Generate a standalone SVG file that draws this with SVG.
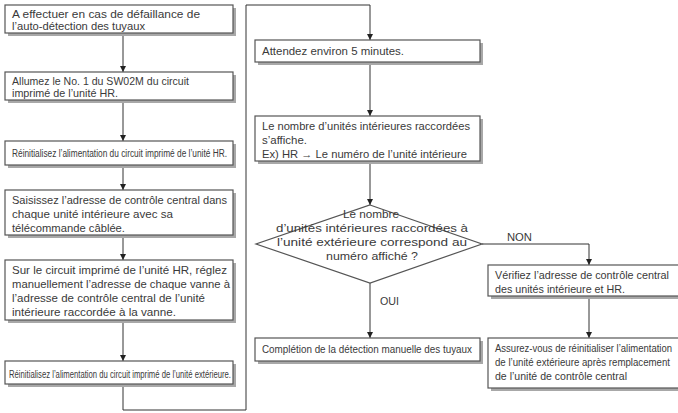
<svg xmlns="http://www.w3.org/2000/svg" width="678" height="413" viewBox="0 0 678 413">
<defs>
<style>
.sh{fill:#a8a8a8;}
.bx{fill:#fff;stroke:#555;stroke-width:1.2;}
.t{font-family:"Liberation Sans",Arial,sans-serif;font-size:11px;fill:#3a3a3a;}
.tc{font-family:"Liberation Sans",Arial,sans-serif;font-size:10px;fill:#3a3a3a;}
.ln{fill:none;stroke:#333;stroke-width:1;}
</style>
<marker id="ah" viewBox="0 0 8 8" refX="8" refY="4" markerWidth="6" markerHeight="6" orient="auto" markerUnits="userSpaceOnUse">
<path d="M0,0 L8,4 L0,8 z" fill="#222"/>
</marker>
</defs>
<rect width="678" height="413" fill="#fff"/>

<g id="connectors">
<line class="ln" x1="123" y1="34" x2="123" y2="72" marker-end="url(#ah)"/>
<line class="ln" x1="123" y1="101" x2="123" y2="141" marker-end="url(#ah)"/>
<line class="ln" x1="123" y1="166" x2="123" y2="190" marker-end="url(#ah)"/>
<line class="ln" x1="123" y1="236" x2="123" y2="260" marker-end="url(#ah)"/>
<line class="ln" x1="123" y1="322" x2="123" y2="361" marker-end="url(#ah)"/>
<polyline class="ln" points="123,386 123,410 246,410 246,5 370,5 370,40" marker-end="url(#ah)"/>
<line class="ln" x1="370" y1="63" x2="370" y2="116" marker-end="url(#ah)"/>
<line class="ln" x1="370" y1="163" x2="370" y2="205" marker-end="url(#ah)"/>
<line class="ln" x1="370" y1="283" x2="370" y2="338" marker-end="url(#ah)"/>
<polyline class="ln" points="482,244 589,244 589,265" marker-end="url(#ah)"/>
<line class="ln" x1="589" y1="297" x2="589" y2="338" marker-end="url(#ah)"/>
<text class="t" x="507" y="241" textLength="25" lengthAdjust="spacingAndGlyphs">NON</text>
<text class="t" x="380" y="305" textLength="19" lengthAdjust="spacingAndGlyphs">OUI</text>
</g>

<g id="n1">
<rect class="sh" x="8" y="8" width="228" height="28"/>
<rect class="bx" x="5" y="5" width="228" height="28"/>
<text class="t" x="12" y="18" textLength="188" lengthAdjust="spacingAndGlyphs">A effectuer en cas de défaillance de</text>
<text class="t" x="12" y="30" textLength="133" lengthAdjust="spacingAndGlyphs">l’auto-détection des tuyaux</text>
</g>

<g id="n2">
<rect class="sh" x="8" y="75" width="228" height="28"/>
<rect class="bx" x="5" y="72" width="228" height="28"/>
<text class="t" x="12" y="85" textLength="177" lengthAdjust="spacingAndGlyphs">Allumez le No. 1 du SW02M du circuit</text>
<text class="t" x="12" y="97" textLength="106" lengthAdjust="spacingAndGlyphs">imprimé de l’unité HR.</text>
</g>

<g id="n3">
<rect class="sh" x="8" y="144" width="228" height="24"/>
<rect class="bx" x="5" y="141" width="228" height="24"/>
<text class="tc" x="12" y="157" textLength="215" lengthAdjust="spacingAndGlyphs">Réinitialisez l’alimentation du circuit imprimé de l’unité HR.</text>
</g>

<g id="n4">
<rect class="sh" x="8" y="193" width="228" height="45"/>
<rect class="bx" x="5" y="190" width="228" height="45"/>
<text class="t" x="12" y="204" textLength="215" lengthAdjust="spacingAndGlyphs">Saisissez l’adresse de contrôle central dans</text>
<text class="t" x="12" y="218" textLength="161" lengthAdjust="spacingAndGlyphs">chaque unité intérieure avec sa</text>
<text class="t" x="12" y="232" textLength="113" lengthAdjust="spacingAndGlyphs">télécommande câblée.</text>
</g>

<g id="n5">
<rect class="sh" x="8" y="263" width="228" height="60"/>
<rect class="bx" x="5" y="260" width="228" height="60"/>
<text class="t" x="12" y="274" textLength="215" lengthAdjust="spacingAndGlyphs">Sur le circuit imprimé de l’unité HR, réglez</text>
<text class="t" x="12" y="288" textLength="218" lengthAdjust="spacingAndGlyphs">manuellement l’adresse de chaque vanne à</text>
<text class="t" x="12" y="302" textLength="193" lengthAdjust="spacingAndGlyphs">l’adresse de contrôle central de l’unité</text>
<text class="t" x="12" y="316" textLength="164" lengthAdjust="spacingAndGlyphs">intérieure raccordée à la vanne.</text>
</g>

<g id="n6">
<rect class="sh" x="8" y="364" width="228" height="23"/>
<rect class="bx" x="5" y="361" width="228" height="23"/>
<text class="tc" x="9" y="378" textLength="222" lengthAdjust="spacingAndGlyphs">Réinitialisez l’alimentation du circuit imprimé de l’unité extérieure.</text>
</g>

<g id="n7">
<rect class="sh" x="258" y="43" width="225" height="22"/>
<rect class="bx" x="255" y="40" width="225" height="22"/>
<text class="t" x="262" y="55" textLength="142" lengthAdjust="spacingAndGlyphs">Attendez environ 5 minutes.</text>
</g>

<g id="n8">
<rect class="sh" x="258" y="119" width="225" height="45"/>
<rect class="bx" x="255" y="116" width="225" height="45"/>
<text class="t" x="262" y="130" textLength="208" lengthAdjust="spacingAndGlyphs">Le nombre d’unités intérieures raccordées</text>
<text class="t" x="262" y="144" textLength="45" lengthAdjust="spacingAndGlyphs">s’affiche.</text>
<text class="t" x="262" y="158" textLength="205" lengthAdjust="spacingAndGlyphs">Ex) HR → Le numéro de l’unité intérieure</text>
</g>

<g id="n9">
<polygon points="370,205 482,244 370,283 256,244" fill="#fff" stroke="#555" stroke-width="1.2"/>
<text class="t" x="371" y="218" text-anchor="middle" textLength="56" lengthAdjust="spacingAndGlyphs">Le nombre</text>
<text class="t" x="372" y="232" text-anchor="middle" textLength="192" lengthAdjust="spacingAndGlyphs">d’unités intérieures raccordées à</text>
<text class="t" x="372" y="246" text-anchor="middle" textLength="190" lengthAdjust="spacingAndGlyphs">l’unité extérieure correspond au</text>
<text class="t" x="372" y="260" text-anchor="middle" textLength="92" lengthAdjust="spacingAndGlyphs">numéro affiché ?</text>
</g>

<g id="n10">
<rect class="sh" x="258" y="341" width="225" height="23"/>
<rect class="bx" x="255" y="338" width="225" height="23"/>
<text class="t" x="262" y="353" textLength="210" lengthAdjust="spacingAndGlyphs">Complétion de la détection manuelle des tuyaux</text>
</g>

<g id="n11">
<rect class="sh" x="491" y="268" width="200" height="31"/>
<rect class="bx" x="488" y="265" width="200" height="31"/>
<text class="t" x="495" y="279" textLength="174" lengthAdjust="spacingAndGlyphs">Vérifiez l’adresse de contrôle central</text>
<text class="t" x="495" y="293" textLength="130" lengthAdjust="spacingAndGlyphs">des unités intérieure et HR.</text>
</g>

<g id="n12">
<rect class="sh" x="491" y="341" width="200" height="50"/>
<rect class="bx" x="488" y="338" width="200" height="50"/>
<text class="t" x="495" y="352" textLength="177" lengthAdjust="spacingAndGlyphs">Assurez-vous de réinitialiser l’alimentation</text>
<text class="t" x="495" y="366" textLength="175" lengthAdjust="spacingAndGlyphs">de l’unité extérieure après remplacement</text>
<text class="t" x="495" y="380" textLength="132" lengthAdjust="spacingAndGlyphs">de l’unité de contrôle central</text>
</g>
</svg>
